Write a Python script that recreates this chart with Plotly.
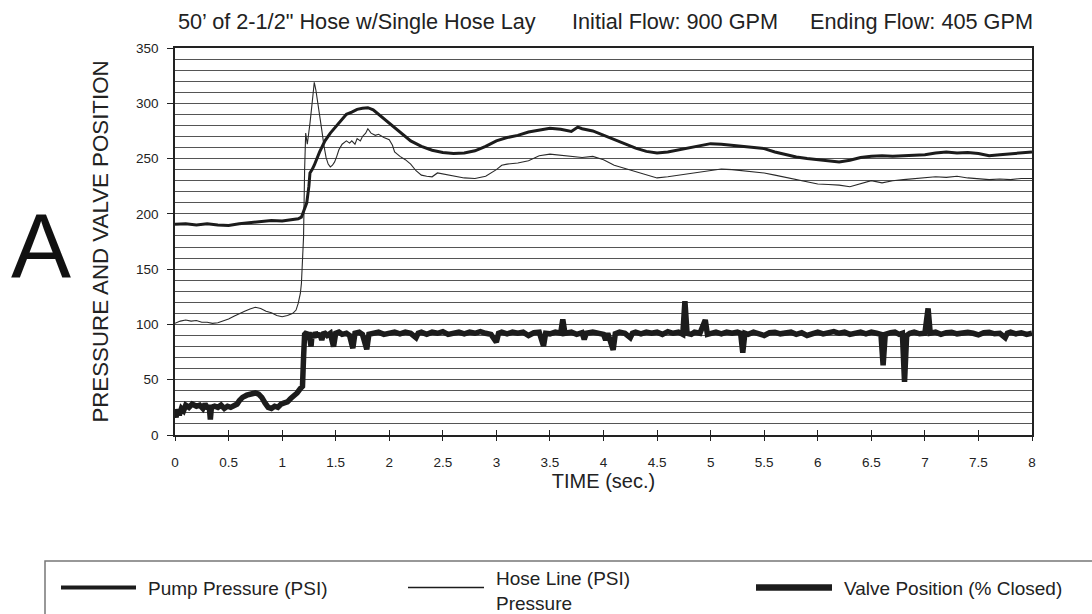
import plotly.graph_objects as go

# ---------------- data ----------------
pump_t = [0.0, 0.1, 0.2, 0.3, 0.4, 0.5, 0.6, 0.7, 0.8, 0.9, 1.0, 1.1, 1.15, 1.18, 1.2, 1.23,
          1.25, 1.26, 1.28, 1.3, 1.35, 1.4, 1.45, 1.5, 1.55, 1.6, 1.65, 1.7, 1.75, 1.8, 1.85,
          1.9, 1.95, 2.0, 2.05, 2.1, 2.2, 2.3, 2.4, 2.5, 2.6, 2.7, 2.8, 2.9, 3.0, 3.1, 3.2,
          3.3, 3.4, 3.5, 3.6, 3.7, 3.76, 3.8, 3.9, 4.0, 4.1, 4.2, 4.3, 4.4, 4.5, 4.6, 4.7,
          4.8, 4.9, 5.0, 5.1, 5.2, 5.3, 5.4, 5.5, 5.6, 5.7, 5.8, 5.9, 6.0, 6.1, 6.2, 6.3,
          6.4, 6.5, 6.6, 6.7, 6.8, 6.9, 7.0, 7.1, 7.2, 7.3, 7.4, 7.5, 7.6, 7.7, 7.8, 7.9, 8.0]
pump_v = [190.5, 191, 190, 191, 190, 189.5, 191, 192, 193.5, 194, 193.5, 194.5, 195.5, 197, 203, 210,
          225, 237, 240, 244, 256, 266, 273, 279, 285, 290, 292, 294.5, 295.5, 296, 294,
          290, 286, 282, 278, 274, 266, 261, 257.5, 255.5, 254.5, 255, 257, 261, 266, 269, 271,
          274, 276, 277.5, 276.5, 274.5, 278.5, 277, 275, 271, 267, 263, 259.5, 256.5, 255, 256, 258,
          259.5, 261.5, 263.5, 263, 262, 261, 260.5, 259, 256, 253.5, 251.5, 250, 249, 248, 247, 248.5,
          251, 252, 252.5, 252, 252.5, 253, 253.5, 255, 256, 255, 255.5, 254.5, 252.5, 253.5, 254.5, 255, 256]

hose_t = [0.0, 0.05, 0.1, 0.15, 0.2, 0.25, 0.3, 0.35, 0.4, 0.45, 0.5, 0.55, 0.6, 0.65, 0.7, 0.75,
          0.8, 0.85, 0.9, 0.95, 1.0, 1.05, 1.1, 1.13, 1.15, 1.17, 1.18, 1.19, 1.2, 1.21, 1.22,
          1.235, 1.245, 1.26, 1.28, 1.30, 1.315, 1.33, 1.35, 1.37, 1.39, 1.41, 1.43, 1.45, 1.47,
          1.49, 1.51, 1.53, 1.56, 1.6, 1.63, 1.65, 1.68, 1.7, 1.73, 1.75, 1.78, 1.8, 1.83, 1.87,
          1.9, 1.95, 2.0, 2.03, 2.05, 2.1, 2.15, 2.2, 2.25, 2.3, 2.35, 2.4, 2.45, 2.5, 2.6, 2.7,
          2.8, 2.9, 3.0, 3.05, 3.1, 3.2, 3.3, 3.4, 3.5, 3.6, 3.7, 3.8, 3.9, 4.0, 4.1, 4.2, 4.3,
          4.4, 4.5, 4.6, 4.7, 4.8, 4.9, 5.0, 5.1, 5.2, 5.3, 5.4, 5.5, 5.6, 5.7, 5.8, 5.9, 6.0,
          6.1, 6.2, 6.3, 6.4, 6.5, 6.6, 6.7, 6.8, 6.9, 7.0, 7.1, 7.2, 7.3, 7.4, 7.5, 7.6, 7.7,
          7.8, 7.9, 8.0]
hose_v = [101, 103, 104, 103, 103.5, 102, 102, 101, 101.5, 103, 105, 107.5, 110, 112, 114, 115.5,
          114.5, 112, 110.5, 108, 107, 108, 110, 113, 119, 128, 137, 155, 179, 240, 273,
          263, 270, 282, 300, 319, 312, 303, 290, 276, 262, 251, 245, 242.5, 244,
          247, 252, 258, 263, 266, 264, 266, 263, 268, 266, 270, 273, 277, 273, 271,
          272, 269, 267, 262, 256, 252, 249, 245, 239, 235, 234, 233.5, 237, 236, 234.5, 232.5,
          232, 234, 240, 244, 245, 246, 248, 252.5, 254, 253, 252, 251, 252, 249, 244, 241, 238.5,
          235.5, 232.5, 233.5, 235, 236, 237.5, 239, 240.5, 240, 239, 238.5, 237, 235, 233, 231, 229, 227,
          226.5, 226, 224.5, 227.5, 230, 228, 230, 231, 232, 232.5, 233.5, 233, 234, 232.5, 232, 231, 231.5,
          231, 232, 232]

valve_t = [0.0, 0.01, 0.02, 0.04, 0.06, 0.08, 0.1, 0.13, 0.16, 0.2, 0.23, 0.26, 0.28, 0.3, 0.32,
           0.33, 0.34, 0.37, 0.4, 0.43, 0.46, 0.49, 0.52, 0.55, 0.58, 0.6, 0.63, 0.67, 0.71, 0.75,
           0.78, 0.81, 0.84, 0.87, 0.9, 0.93, 0.96, 0.99, 1.02, 1.05, 1.08, 1.11, 1.14, 1.17, 1.19,
           1.2, 1.21, 1.23, 1.24, 1.25, 1.27, 1.28, 1.3, 1.31, 1.33, 1.35, 1.37, 1.39, 1.42, 1.45,
           1.48, 1.5, 1.53, 1.56, 1.6, 1.63, 1.66, 1.68, 1.72, 1.75, 1.79, 1.81, 1.85, 1.9, 1.95,
           2.0, 2.05, 2.1, 2.15, 2.2, 2.25, 2.27, 2.3, 2.35, 2.4, 2.45, 2.5, 2.55, 2.6, 2.65, 2.7,
           2.75, 2.8, 2.85, 2.9, 2.95, 3.0, 3.02, 3.05, 3.1, 3.15, 3.2, 3.25, 3.3, 3.35, 3.4, 3.44,
           3.46, 3.5, 3.55, 3.6, 3.62, 3.64, 3.7, 3.75, 3.8, 3.82, 3.84, 3.9, 3.95, 4.0, 4.02, 4.04,
           4.09, 4.11, 4.15, 4.2, 4.25, 4.27, 4.3, 4.35, 4.4, 4.45, 4.5, 4.55, 4.6, 4.65, 4.7, 4.74,
           4.76, 4.78, 4.82, 4.85, 4.9, 4.95, 4.97, 5.0, 5.05, 5.1, 5.15, 5.2, 5.25, 5.28, 5.30,
           5.32, 5.35, 5.4, 5.45, 5.5, 5.55, 5.6, 5.65, 5.7, 5.75, 5.8, 5.85, 5.9, 5.95, 6.0, 6.05,
           6.1, 6.15, 6.2, 6.25, 6.3, 6.35, 6.4, 6.45, 6.5, 6.55, 6.59, 6.61, 6.63, 6.68, 6.72,
           6.76, 6.79, 6.81, 6.83, 6.86, 6.9, 6.95, 7.0, 7.03, 7.05, 7.1, 7.15, 7.2, 7.25, 7.3,
           7.35, 7.4, 7.45, 7.5, 7.55, 7.6, 7.65, 7.7, 7.75, 7.77, 7.8, 7.85, 7.9, 7.95, 8.0]
valve_v = [20, 16, 23, 18, 24, 22, 27, 25, 28, 26, 27, 24, 28, 25, 25,
           14, 25, 26, 25, 27, 24, 26, 25, 27, 28, 31, 34, 36, 37.5, 38,
           37, 34, 29, 25, 24, 26, 25, 28, 29, 30, 33, 35, 38, 42, 44,
           70, 91, 93, 86, 93, 80, 92, 88, 93, 89, 92, 86, 93, 90, 92,
           80, 92, 93, 91, 92, 90, 78.5, 92, 93, 91, 77.5, 91, 92, 93, 91,
           92, 93, 91.5, 93, 92, 88, 92, 93, 91, 93, 92, 93.5, 91, 92.5, 93, 91.5,
           93, 92, 93.5, 92, 91, 84, 92, 93, 91.5, 93, 92, 93, 90, 92.5, 93, 80.5,
           92, 91.5, 93, 92, 104.5, 92, 93, 91, 92.5, 86.5, 92, 93, 92, 91, 86, 92,
           77, 91.5, 93, 92, 88, 92, 93, 91.5, 93, 92, 93, 91, 93.5, 92, 93, 91,
           121, 92, 91, 93, 92, 104, 91, 92, 93, 91.5, 93, 92, 93, 92, 74.5,
           92, 91, 93, 92, 90, 92.5, 93, 91.5, 92, 93, 91, 92.5, 90, 92, 93, 91.5,
           92.5, 93.5, 92, 93, 91, 92.5, 93, 91.5, 93, 92, 91, 63, 91, 92.5, 93,
           91, 92, 48, 90, 92, 93, 91.5, 92, 114.5, 92, 93, 91, 92.5, 93, 91.5,
           92, 93, 92, 90.5, 92.5, 93, 91.5, 92, 88, 92, 93, 91.5, 92.5, 91, 92]

x_ticks = [0, 0.5, 1, 1.5, 2, 2.5, 3, 3.5, 4, 4.5, 5, 5.5, 6, 6.5, 7, 7.5, 8]
x_tick_labels = ["0", "0.5", "1", "1.5", "2", "2.5", "3", "3.5", "4", "4.5", "5", "5.5",
                 "6", "6.5", "7", "7.5", "8"]
y_ticks = [0, 50, 100, 150, 200, 250, 300, 350]

title_parts = ["50\u2019 of 2-1/2\" Hose w/Single Hose Lay", "Initial Flow: 900 GPM",
               "Ending Flow: 405 GPM"]
series_names = ["Pump Pressure (PSI)", "Hose Line (PSI)<br>Pressure", "Valve Position (% Closed)"]

# ---------------- layout geometry ----------------
W, H = 1092, 614
L, R, T, B = 175, 60, 48, 179
PW, PH = W - L - R, H - T - B
FONT = "Liberation Sans, Arial, sans-serif"
INK = "#1c1c1c"


def px(xp):
    return (xp - L) / PW


def py(yp):
    return (H - B - yp) / PH


fig = go.Figure()
fig.add_trace(go.Scatter(x=valve_t, y=valve_v, mode="lines", name=series_names[2],
                         line=dict(color=INK, width=5.5), showlegend=False))
fig.add_trace(go.Scatter(x=hose_t, y=hose_v, mode="lines", name=series_names[1],
                         line=dict(color="#2a2a2a", width=1.1), showlegend=False))
fig.add_trace(go.Scatter(x=pump_t, y=pump_v, mode="lines", name=series_names[0],
                         line=dict(color=INK, width=3), showlegend=False))
# invisible trace to carry the inner half of the crossing x ticks
fig.add_trace(go.Scatter(x=pump_t, y=pump_v, xaxis="x2", mode="lines", opacity=0,
                         line=dict(width=0), hoverinfo="skip", showlegend=False))

annotations = []
# title pieces
for txt, x0 in zip(title_parts, [176, 570, 808]):
    annotations.append(dict(text=txt, x=px(x0), y=py(21), xref="paper", yref="paper",
                            xanchor="left", yanchor="middle", showarrow=False,
                            font=dict(family=FONT, size=21.7, color="#222")))
# big panel letter
annotations.append(dict(text="A", x=px(41), y=py(246), xref="paper", yref="paper",
                        xanchor="center", yanchor="middle", showarrow=False,
                        font=dict(family=FONT, size=90, color="#111")))

# legend box drawn manually
shapes = [dict(type="rect", xref="paper", yref="paper", x0=px(45), x1=px(1110),
               y0=py(561), y1=py(630), line=dict(color="#777", width=1.5),
               fillcolor="rgba(0,0,0,0)")]
leg = [(61, 136, 4, 146, series_names[0], 588),
       (408, 484, 1.3, 494, series_names[1], 591),
       (756, 832, 6.5, 842, series_names[2], 588)]
for x0, x1, w, tx, name, ty in leg:
    shapes.append(dict(type="line", xref="paper", yref="paper", x0=px(x0), x1=px(x1),
                       y0=py(587.5), y1=py(587.5), line=dict(color=INK, width=w)))
    annotations.append(dict(text=name, x=px(tx), y=py(ty), xref="paper", yref="paper",
                            xanchor="left", yanchor="middle", align="left", showarrow=False,
                            font=dict(family=FONT, size=19, color="#222")))

fig.update_layout(
    width=W, height=H,
    margin=dict(l=L, r=R, t=T, b=B, pad=0),
    paper_bgcolor="white", plot_bgcolor="white",
    font=dict(family=FONT, color="#222"),
    showlegend=False,
    annotations=annotations,
    shapes=shapes,
    xaxis=dict(range=[0, 8], tickvals=x_ticks, ticktext=x_tick_labels,
               ticks="outside", ticklen=4, tickwidth=1.2, tickcolor="#222",
               ticklabelstandoff=10,
               showgrid=False, zeroline=False,
               showline=True, linecolor="#222", linewidth=1.5, mirror=True,
               tickfont=dict(family=FONT, size=13.5, color="#222"),
               title=dict(text="TIME (sec.)", font=dict(family=FONT, size=20, color="#222"),
                          standoff=0)),
    xaxis2=dict(range=[0, 8], overlaying="x", side="bottom", matches="x",
                tickvals=x_ticks, ticks="inside", ticklen=5, tickwidth=1.2, tickcolor="#222",
                showticklabels=False, showgrid=False, zeroline=False, showline=False),
    yaxis=dict(range=[0, 350], tickvals=y_ticks,
               ticks="outside", ticklen=6, tickwidth=1.2, tickcolor="#222",
               ticklabelstandoff=6,
               showgrid=True, gridcolor="#555", gridwidth=1,
               minor=dict(dtick=10, showgrid=True, gridcolor="#555", gridwidth=1, ticks=""),
               zeroline=False,
               showline=True, linecolor="#222", linewidth=1.5, mirror=True,
               tickfont=dict(family=FONT, size=13.5, color="#222"),
               title=dict(text="PRESSURE AND VALVE POSITION",
                          font=dict(family=FONT, size=22.3, color="#222"), standoff=21)),
)

fig.write_html("out.html")
